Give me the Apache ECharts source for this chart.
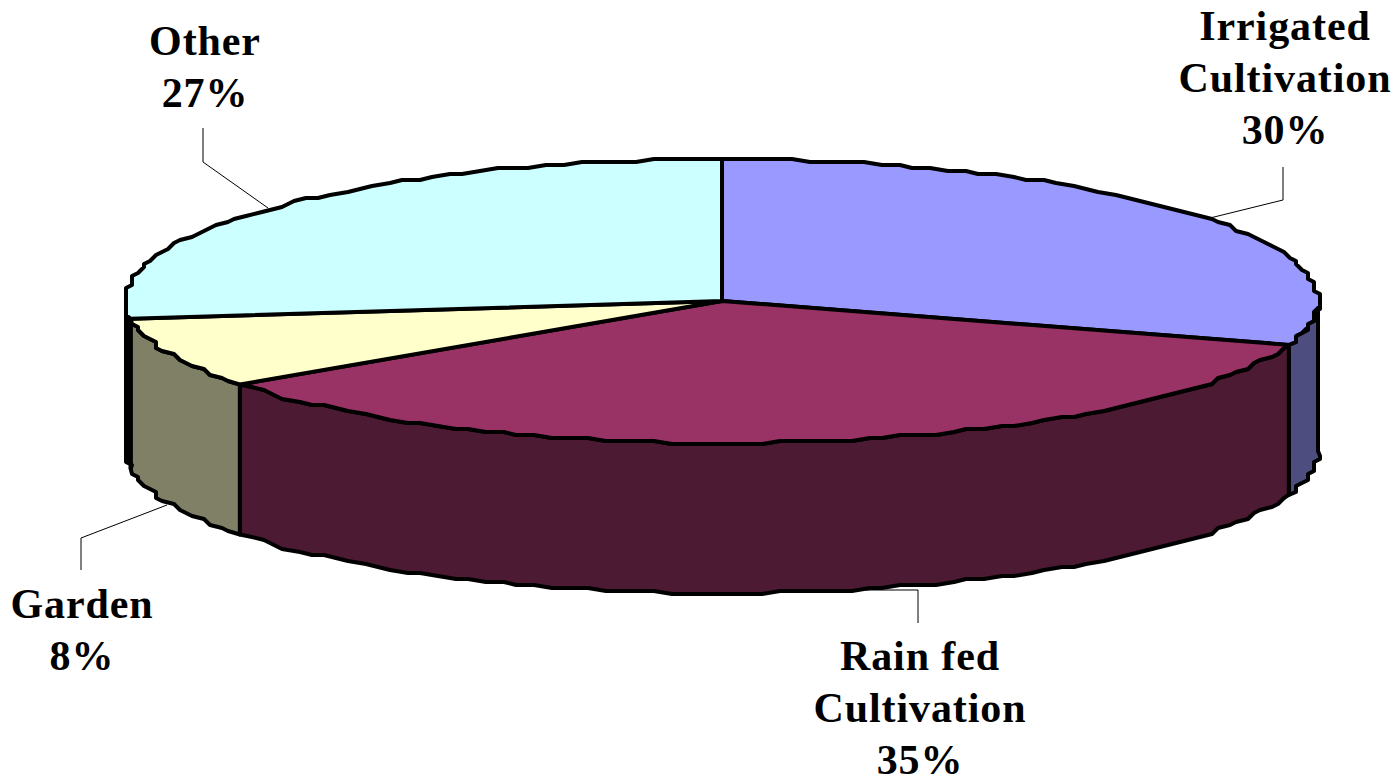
<!DOCTYPE html>
<html>
<head>
<meta charset="utf-8">
<title>Land use</title>
<style>
  html, body { margin: 0; padding: 0; background: #fff; }
  #main { width: 1394px; height: 776px; }
  #main text { letter-spacing: 0.9px; }
</style>
<script src="https://cdn.jsdelivr.net/npm/echarts@6/dist/echarts.min.js"></script>
</head>
<body>
<div id="main"></div>
<script>
  // values, clockwise from 12 o'clock
  var categories = ['Irrigated\nCultivation', 'Rain fed\nCultivation', 'Garden', 'Other'];
  var shares = [30, 35, 8, 27];
  var topColors = ['#9999ff', '#993366', '#ffffcc', '#ccffff'];
  var sideColors = ['#4d4d80', '#4d1a33', '#808066', '#000000'];

  // layout of the tilted disc, in pixels
  var cx = 722, cy = 301, rx = 596, ry = 142, depth = 150;
  var labelPos = [[1285, 0], [920, 630], [82, 578], [205, 15]];
  var leaderLines = [
    [[1210, 218], [1283, 200], [1283, 167]],
    [[863, 590], [918, 590], [918, 623]],
    [[167, 505], [81, 538], [81, 570]],
    [[268, 208], [203, 162], [203, 128]]
  ];

  var total = shares.reduce(function (a, b) { return a + b; }, 0);

  function startAngle(i) {
    var sum = 0;
    for (var k = 0; k < i; k++) sum += shares[k];
    return sum / total * Math.PI * 2;
  }

  // the source outline is a coarse metafile curve, so snap it to a grid
  function snap(v, step) {
    return Math.round(v / step) * step;
  }

  function arcPoints(a0, a1) {
    var pts = [];
    var n = Math.max(2, Math.ceil((a1 - a0) / 0.03));
    for (var i = 0; i <= n; i++) {
      var a = a0 + (a1 - a0) * i / n;
      var x = cx + rx * Math.sin(a), y = cy - ry * Math.cos(a);
      if (i > 0 && i < n) { x = snap(x, 6); y = snap(y, 3); }
      pts.push([x, y]);
    }
    return pts;
  }

  function renderWall(params, api) {
    var i = params.dataIndex;
    var a0 = Math.max(startAngle(i), Math.PI / 2);
    var a1 = Math.min(startAngle(i + 1), Math.PI * 1.5);
    if (a1 <= a0) return null;
    var upper = arcPoints(a0, a1);
    var lower = upper.map(function (p) { return [p[0], p[1] + depth]; }).reverse();
    return {
      type: 'polygon',
      shape: { points: upper.concat(lower) },
      style: { fill: sideColors[i], stroke: '#000', lineWidth: 4, lineJoin: 'round' }
    };
  }

  function renderTop(params, api) {
    var i = params.dataIndex;
    var pts = [[cx, cy]].concat(arcPoints(startAngle(i), startAngle(i + 1)));
    return {
      type: 'group',
      children: [
        {
          type: 'polygon',
          shape: { points: pts },
          style: { fill: topColors[i], stroke: '#000', lineWidth: 4, lineJoin: 'round' }
        },
        {
          type: 'polyline',
          shape: { points: leaderLines[i] },
          style: { fill: null, stroke: '#000', lineWidth: 1 }
        },
        {
          type: 'text',
          style: {
            x: labelPos[i][0],
            y: labelPos[i][1],
            text: categories[i] + '\n' + api.value(0) + '%',
            font: 'bold 42px "Liberation Serif"',
            lineHeight: 52,
            fill: '#000',
            align: 'center',
            verticalAlign: 'top'
          }
        }
      ]
    };
  }

  var myChart = echarts.init(document.getElementById('main'), null, { renderer: 'svg' });
  var option = {
    animation: false,
    backgroundColor: '#fff',
    series: [
      { type: 'custom', coordinateSystem: 'none', renderItem: renderWall, data: shares, silent: true },
      { type: 'custom', coordinateSystem: 'none', renderItem: renderTop, data: shares, silent: true }
    ]
  };
  myChart.setOption(option);
</script>
</body>
</html>
